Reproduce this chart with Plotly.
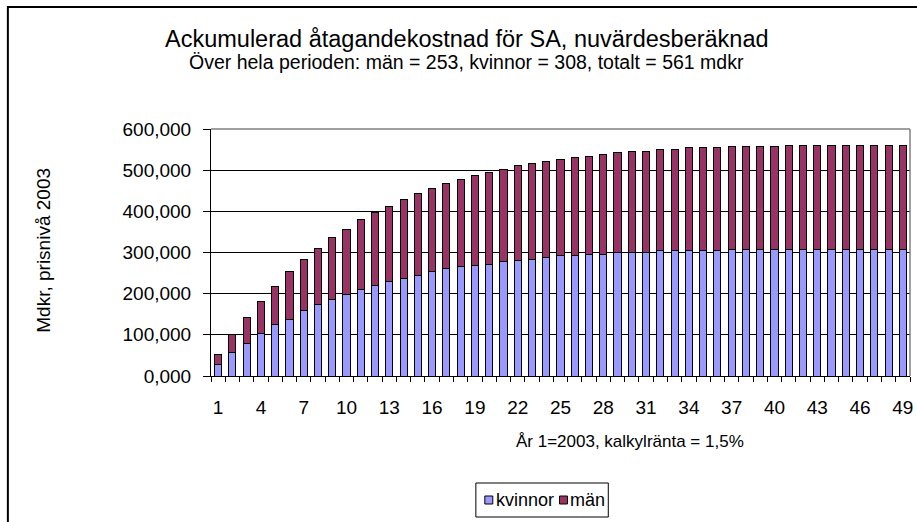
import plotly.graph_objects as go

years = list(range(1, 50))
tick_labels = [str(v) for v in range(1, 50, 3)]
kvinnor = [27, 56, 80, 104, 124, 138, 158, 174, 186, 198,
           209, 221, 230, 238, 245, 253, 261, 265, 269, 272,
           277, 280, 284, 288, 292, 292, 296, 296, 300, 300,
           300, 304, 304, 304, 304, 304, 308, 308, 308, 308,
           308, 308, 308, 308, 308, 308, 308, 308, 308]
man = [25, 44, 63, 78, 94, 115, 124, 135, 151, 158,
       170, 175, 182, 190, 199, 202, 207, 213, 218, 222,
       225, 231, 231, 234, 234, 238, 238, 242, 242, 246,
       246, 246, 246, 250, 250, 250, 250, 250, 250, 250,
       253, 253, 253, 253, 253, 253, 253, 253, 253]
series_names = ["kvinnor", "män"]
series_colors = ["#9999FF", "#993366"]

W, H = 917, 522
L, R, T, B = 211, 4, 129, 146
pw, ph = W - L - R, H - T - B

def px(x):
    return (x - L) / pw

def py(y):
    return (H - B - y) / ph

FONT = "Liberation Sans, Arial, sans-serif"

fig = go.Figure()
for name, vals, col in zip(series_names, [kvinnor, man], series_colors):
    fig.add_trace(go.Bar(x=years, y=vals, name=name,
                         marker=dict(color=col, line=dict(color="#000000", width=1))))

fig.update_layout(
    width=W, height=H,
    margin=dict(l=L, r=R, t=T, b=B, pad=0),
    barmode="stack", bargap=0.5,
    paper_bgcolor="white", plot_bgcolor="white",
    separators=",.",
    font=dict(family=FONT, size=19, color="#000000"),
    showlegend=False,
    xaxis=dict(range=[0.5, 49.5], tickmode="array",
               tickvals=list(range(1, 50, 3)), ticktext=tick_labels,
               ticks="outside", ticklen=0, tickcolor="rgba(0,0,0,0)",
               ticklabelstandoff=14,
               showline=True, linecolor="#000000", linewidth=1,
               showgrid=False, zeroline=False,
               minor=dict(tickvals=[v + 0.5 for v in range(0, 50)], ticks="outside",
                          ticklen=5, tickcolor="#000000", tickwidth=1, showgrid=False),
               tickfont=dict(size=19)),
    yaxis=dict(range=[0, 600], dtick=100, tickformat=".3f",
               ticks="outside", ticklen=7, tickcolor="#000000",
               ticklabelstandoff=8,
               showline=True, linecolor="#000000", linewidth=1,
               showgrid=True, gridcolor="#000000", gridwidth=1, zeroline=False,
               tickfont=dict(size=19)),
)

fig.add_annotation(text="Ackumulerad åtagandekostnad för SA, nuvärdesberäknad",
                   x=px(468), y=py(39), xref="paper", yref="paper",
                   showarrow=False, font=dict(size=23.5), xanchor="center", yanchor="middle")
fig.add_annotation(text="Över hela perioden: män = 253, kvinnor = 308, totalt = 561 mdkr",
                   x=px(468), y=py(62), xref="paper", yref="paper",
                   showarrow=False, font=dict(size=19.5), xanchor="center", yanchor="middle")
fig.add_annotation(text="År 1=2003, kalkylränta = 1,5%",
                   x=px(632), y=py(441), xref="paper", yref="paper",
                   showarrow=False, font=dict(size=17), xanchor="center", yanchor="middle")
fig.add_annotation(text="Mdkr, prisnivå 2003", textangle=-90,
                   x=px(42), y=py(250), xref="paper", yref="paper",
                   showarrow=False, font=dict(size=19), xanchor="center", yanchor="middle")

# plot-area border (top and right, grey)
fig.add_shape(type="line", xref="paper", yref="paper", x0=0, x1=1, y0=1, y1=1,
              line=dict(color="#808080", width=1.5))
fig.add_shape(type="line", xref="paper", yref="paper", x0=1, x1=1, y0=0, y1=1,
              line=dict(color="#808080", width=1.5))
# chart-area frame
fig.add_shape(type="rect", xref="paper", yref="paper",
              x0=px(7), x1=px(935), y0=py(540), y1=py(7),
              line=dict(color="#000000", width=2), fillcolor="rgba(0,0,0,0)", layer="below")

# legend (box, keys, labels)
fig.add_shape(type="rect", xref="paper", yref="paper",
              x0=px(477), x1=px(610), y0=py(517), y1=py(483),
              line=dict(color="#000000", width=1), fillcolor="white")
leg_x = [486, 561]
txt_x = [495, 570]
for name, col, sx, tx in zip(series_names, series_colors, leg_x, txt_x):
    fig.add_shape(type="rect", xref="paper", yref="paper",
                  x0=px(sx), x1=px(sx + 8), y0=py(504), y1=py(496),
                  line=dict(color="#000000", width=1), fillcolor=col)
    fig.add_annotation(text=name, x=px(tx), y=py(500), xref="paper", yref="paper",
                       showarrow=False, font=dict(size=18), xanchor="left", yanchor="middle")

fig.write_html("out.html", config={"displayModeBar": False},
               post_script="document.body.style.margin='0';")
